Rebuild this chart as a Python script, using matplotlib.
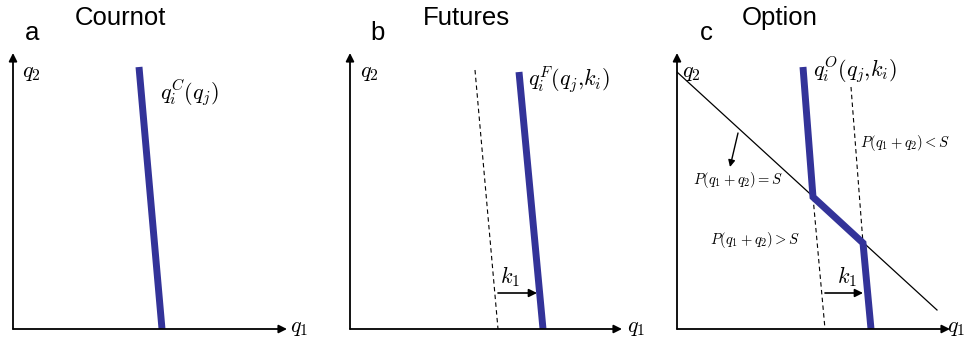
import matplotlib
matplotlib.use("Agg")
import matplotlib.pyplot as plt

plt.rcParams['font.family'] = ['Liberation Sans', 'DejaVu Sans']
plt.rcParams['mathtext.fontset'] = 'cm'

BLUE = '#333399'

# panel geometry (origin and axis lengths, pixel units)
panel_origin_x = [13, 350, 677]
axis_len_x = [274, 272, 273]
axis_len_y = 276

panel_letters = ['a', 'b', 'c']
panel_titles = ['Cournot', 'Futures', 'Option']

# reaction curves (q1, q2)
cournot_q1 = [126, 149]
cournot_q2 = [262, 0]

futures_q1 = [169, 193]
futures_q2 = [257, 0]
futures_old_q1 = [125, 148]
futures_old_q2 = [259, 0]

option_q1 = [126, 136, 186, 194]
option_q2 = [262, 132, 86, 0]
option_dash_left_q1 = [136, 148]
option_dash_left_q2 = [132, 0]
option_dash_right_q1 = [174, 186]
option_dash_right_q2 = [242, 86]
strike_q1 = [0, 260]
strike_q2 = [257, 19]

k1_arrow_b = [148, 187]
k1_arrow_c = [148, 186]
k1_arrow_y = 36

fig = plt.figure(figsize=(9.66, 3.41), dpi=100)
W, H = 966, 341
axes = []
for i in range(3):
    ax = fig.add_axes([panel_origin_x[i] / W, (H - 329) / H,
                       axis_len_x[i] / W, axis_len_y / H])
    ax.set_xlim(0, axis_len_x[i])
    ax.set_ylim(0, axis_len_y)
    ax.axis('off')
    arr = dict(arrowstyle='-|>', color='black', lw=1.3, mutation_scale=12,
               shrinkA=0, shrinkB=0)
    ax.annotate('', xy=(axis_len_x[i], 0), xytext=(0, 0), arrowprops=arr,
                annotation_clip=False)
    ax.annotate('', xy=(0, axis_len_y), xytext=(0, 0), arrowprops=arr,
                annotation_clip=False)
    axes.append(ax)

letter_x = [12, 20, 23]
title_x = [62, 73, 65]
q2_x = [9, 10, 5]
q1_x = [277, 277, 270]
for i, ax in enumerate(axes):
    ax.text(letter_x[i], 296, panel_letters[i], fontsize=18.5, ha='left',
            va='center', clip_on=False)
    ax.text(title_x[i], 311, panel_titles[i], fontsize=18.5, ha='left',
            va='center', clip_on=False)
    ax.text(q2_x[i], 257, r'$q_2$', fontsize=16, ha='left', va='center')
    ax.text(q1_x[i], 1, r'$q_1$', fontsize=16, ha='left', va='center',
            clip_on=False)

# a: Cournot
ax = axes[0]
ax.plot(cournot_q1, cournot_q2, color=BLUE, lw=5, solid_capstyle='butt')
ax.text(147, 236, r'$q_i^C(q_j)$', fontsize=16, ha='left', va='center')

# b: Futures
ax = axes[1]
ax.plot(futures_old_q1, futures_old_q2, color='black', lw=0.8, ls=(0, (4, 3)))
ax.plot(futures_q1, futures_q2, color=BLUE, lw=5, solid_capstyle='butt')
ax.annotate('', xy=(k1_arrow_b[1], k1_arrow_y), xytext=(k1_arrow_b[0], k1_arrow_y),
            arrowprops=dict(arrowstyle='-|>', color='black', lw=1.2,
                            mutation_scale=12, shrinkA=0, shrinkB=0))
ax.text(160, 52, r'$k_1$', fontsize=16, ha='center', va='center')
ax.text(178, 249, r'$q_i^F(q_j{,}k_i)$', fontsize=16, ha='left', va='center',
        clip_on=False)

# c: Option
ax = axes[2]
ax.plot(strike_q1, strike_q2, color='black', lw=0.9)
ax.plot(option_dash_left_q1, option_dash_left_q2, color='black', lw=0.8,
        ls=(0, (4, 3)))
ax.plot(option_dash_right_q1, option_dash_right_q2, color='black', lw=0.8,
        ls=(0, (4, 3)))
ax.plot(option_q1, option_q2, color=BLUE, lw=5, solid_capstyle='butt',
        solid_joinstyle='miter')
ax.annotate('', xy=(k1_arrow_c[1], k1_arrow_y), xytext=(k1_arrow_c[0], k1_arrow_y),
            arrowprops=dict(arrowstyle='-|>', color='black', lw=1.2,
                            mutation_scale=12, shrinkA=0, shrinkB=0))
ax.annotate('', xy=(53, 162), xytext=(61, 196),
            arrowprops=dict(arrowstyle='-|>', color='black', lw=1.0,
                            mutation_scale=10, shrinkA=0, shrinkB=0))
ax.text(170, 52, r'$k_1$', fontsize=16, ha='center', va='center')
ax.text(136, 259, r'$q_i^O(q_j{,}k_i)$', fontsize=16, ha='left', va='center',
        clip_on=False)
ax.text(61, 149, r'$P(q_1+q_2)=S$', fontsize=10.5, ha='center', va='center')
ax.text(78, 89, r'$P(q_1+q_2)>S$', fontsize=10.5, ha='center', va='center')
ax.text(228, 186, r'$P(q_1+q_2)<S$', fontsize=10.5, ha='center', va='center',
        clip_on=False)

fig.savefig('out.png', dpi=100)
